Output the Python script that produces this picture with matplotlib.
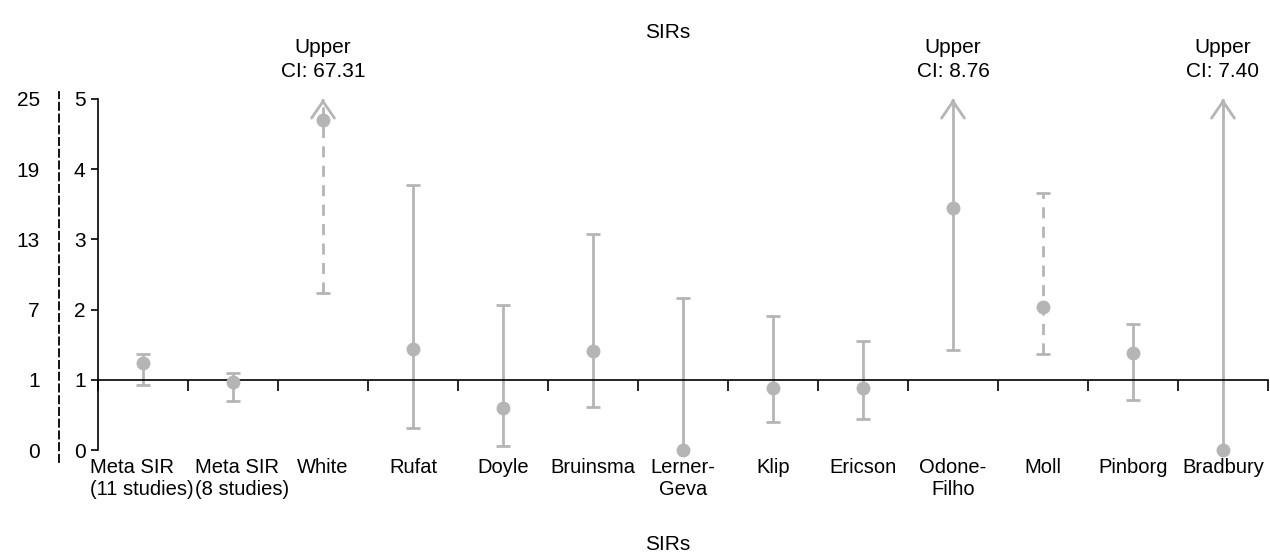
import matplotlib.pyplot as plt
import numpy as np

plt.rcParams['font.family'] = ['Liberation Sans', 'DejaVu Sans']
plt.rcParams['font.size'] = 15

# values on the plotted (left, 0-5) scale
studies = ["Meta SIR\n(11 studies)", "Meta SIR\n(8 studies)", "White", "Rufat",
           "Doyle", "Bruinsma", "Lerner-\nGeva", "Klip", "Ericson",
           "Odone-\nFilho", "Moll", "Pinborg", "Bradbury"]
sir = [1.24, 0.97, 4.70, 1.44, 0.60, 1.41, 0.0, 0.88, 0.88, 3.45, 2.04, 1.38, 0.0]
lower = [0.93, 0.70, 2.24, 0.31, 0.06, 0.61, 0.0, 0.40, 0.44, 1.42, 1.37, 0.71, 0.0]
upper = [1.37, 1.10, 5.0, 3.77, 2.07, 3.08, 2.17, 1.91, 1.55, 5.0, 3.66, 1.79, 5.0]
# dashed = read on the right-hand (0-25) scale
dashed = [False, False, True, False, False, False, False, False, False, False, True, False, False]
# upper CI beyond the axis -> arrow and label
overflow = {2: "67.31", 9: "8.76", 12: "7.40"}

left_ticks = [0, 1, 2, 3, 4, 5]
right_labels = ["0", "1", "7", "13", "19", "25"]

grey = "#b5b5b5"

fig = plt.figure(figsize=(12.7, 5.58), dpi=100)
ax = fig.add_axes([98 / 1270, 1 - 450 / 558, 1170 / 1270, 351 / 558])

x = np.arange(len(studies))
ax.set_xlim(-0.5, len(studies) - 0.5)
ax.set_ylim(0, 5)

for i in x:
    ls = (0, (4, 3)) if dashed[i] else "-"
    ax.vlines(i, lower[i], upper[i], colors=grey, linewidth=2, linestyles=ls,
              clip_on=False, zorder=2)
    if i in overflow:
        ax.annotate("", xy=(i, upper[i]), xytext=(i, upper[i] - 0.03),
                    arrowprops=dict(arrowstyle="->,head_length=0.8,head_width=0.55",
                                    color=grey, lw=2, shrinkA=0, shrinkB=0),
                    annotation_clip=False)
        ax.text(i, 5.56, "Upper\nCI: " + overflow[i], ha="center", va="center",
                linespacing=1.3, clip_on=False)
    else:
        ax.hlines(upper[i], i - 0.075, i + 0.075, colors=grey, linewidth=2, clip_on=False)
    if lower[i] > 0:
        ax.hlines(lower[i], i - 0.075, i + 0.075, colors=grey, linewidth=2, clip_on=False)
    ax.plot(i, sir[i], "o", color=grey, markersize=9, clip_on=False, zorder=3)

# axes styling
for s in ["top", "right"]:
    ax.spines[s].set_visible(False)
ax.spines["bottom"].set_position(("data", 1))
ax.spines["left"].set_linewidth(1.2)
ax.spines["bottom"].set_linewidth(1.2)
ax.set_xticks(np.arange(len(studies) + 1) - 0.5)
ax.set_xticklabels([])
ax.tick_params(axis="x", direction="out", length=8, width=1.2)
ax.set_yticks(left_ticks)
ax.tick_params(axis="y", direction="out", length=5, width=1.2, pad=4, labelsize=15)

# the two meta labels are left-aligned blocks, the second nudged right
for i, name in enumerate(studies):
    if name.startswith("Meta"):
        shift = 0.1 if i == 1 else -0.01
        ax.text(i + shift, -0.11, name, ha="center", va="top", linespacing=1.2,
                multialignment="left", fontsize=14.5, clip_on=False)
    else:
        ax.text(i, -0.11, name, ha="center", va="top", linespacing=1.2,
                fontsize=14.5, clip_on=False)

# right-hand scale drawn as dashed axis on the left
ax2 = ax.twinx()
ax2.set_ylim(0, 5)
for s in ["top", "right", "bottom"]:
    ax2.spines[s].set_visible(False)
ax2.spines["left"].set_visible(True)
ax2.spines["left"].set_position(("outward", 28))
ax2.spines["left"].set_linestyle((0, (4, 2.5)))
ax2.spines["left"].set_linewidth(1.3)
ax2.spines["left"].set_bounds(-0.17, 5.1)
ax2.yaxis.set_ticks_position("left")
ax2.yaxis.set_label_position("left")
ax2.set_yticks(left_ticks)
ax2.set_yticklabels(right_labels)
ax2.tick_params(axis="y", length=0, pad=14, labelsize=15)

fig.text(668 / 1270, 1 - 32 / 558, "SIRs", ha="center", va="center", fontsize=15)
fig.text(668 / 1270, 1 - 545 / 558, "SIRs", ha="center", va="center", fontsize=15)

fig.savefig("out.png", dpi=100)
